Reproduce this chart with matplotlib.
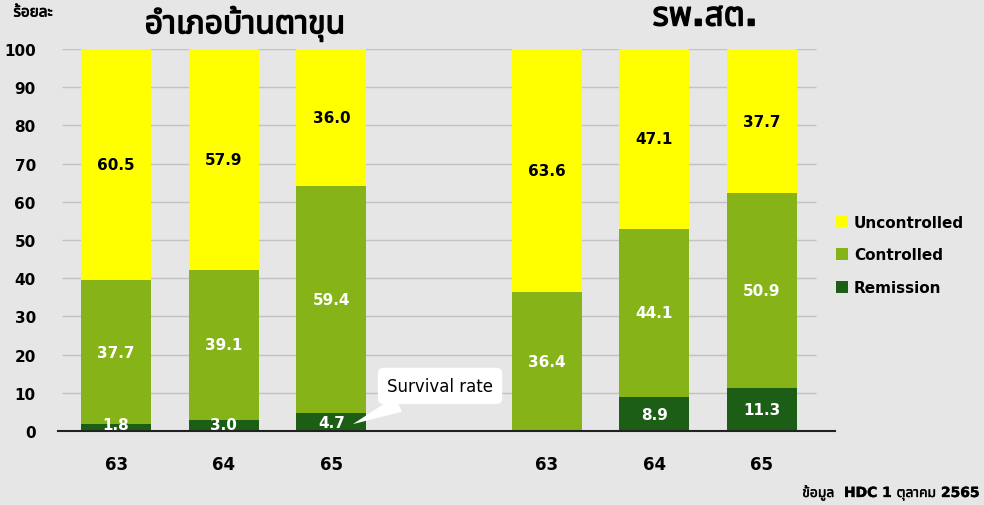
import matplotlib
matplotlib.use("Agg")
import matplotlib.pyplot as plt
import matplotlib.patheffects as pe
from matplotlib import font_manager
from matplotlib.ft2font import FT2Font

# ---- data ----
years = ["63", "64", "65", "63", "64", "65"]
group_titles = ["อำเภอบ้านตาขุน", "รพ.สต."]
remission = [1.8, 3.0, 4.7, 0.0, 8.9, 11.3]
controlled = [37.7, 39.1, 59.4, 36.4, 44.1, 50.9]
uncontrolled = [60.5, 57.9, 36.0, 63.6, 47.1, 37.7]
series_names = ["Uncontrolled", "Controlled", "Remission"]
yticks = [0, 10, 20, 30, 40, 50, 60, 70, 80, 90, 100]
ylabel_text = "ร้อยละ"
source_text = "ข้อมูล  HDC 1 ตุลาคม 2565"
callout_text = "Survival rate"

positions = [0, 1, 2, 4, 5, 6]

# ---- fonts ----
PREF = ["Noto Sans Thai", "Kanit", "Prompt", "Sarabun", "Loma", "Garuda", "Waree",
        "Umpush", "Tlwg Typo", "Laksaman", "Norasi", "Kinnari"]

def find_thai_font():
    found = []
    for f in font_manager.fontManager.ttflist:
        try:
            cm = FT2Font(f.fname).get_charmap()
        except Exception:
            continue
        if 0x0E2D in cm:
            found.append(f.name)
    if not found:
        return None
    for p in PREF:
        for n in found:
            if n == p:
                return n
    for p in PREF:
        for n in found:
            if n.startswith(p):
                return n
    return found[0]

thai = find_thai_font()
thai_fam = ["DejaVu Sans"] + ([thai] if thai else [])
plt.rcParams["font.family"] = ["DejaVu Sans"]

BG = "#e6e6e6"
C_UN = "#ffff00"
C_CO = "#86b418"
C_RE = "#1d5e16"

fig = plt.figure(figsize=(9.84, 5.06), dpi=100, facecolor=BG)
W, H = 984, 506
ax = fig.add_axes([58 / W, (H - 432) / H, (835 - 58) / W, (432 - 50) / H])
ax.set_facecolor(BG)
ax.set_xlim(-0.54, 6.68)
ax.set_ylim(0, 100)

# grid
ax.hlines(yticks[1:], -0.5, 6.5, color="#c2c2c2", lw=1.0, zorder=0)

bw = 0.65
b1 = ax.bar(positions, remission, bw, color=C_RE, zorder=2, label=series_names[2])
b2 = ax.bar(positions, controlled, bw, bottom=remission, color=C_CO, zorder=2, label=series_names[1])
bot3 = [r + c for r, c in zip(remission, controlled)]
b3 = ax.bar(positions, uncontrolled, bw, bottom=bot3, color=C_UN, zorder=2, label=series_names[0])

for x, r, c, u, b in zip(positions, remission, controlled, uncontrolled, bot3):
    if r > 0:
        ax.text(x, max(r / 2, 1.8), f"{r:.1f}", ha="center", va="center", color="white",
                fontsize=11, fontweight="bold", zorder=3)
    ax.text(x, r + c / 2, f"{c:.1f}", ha="center", va="center", color="white",
            fontsize=11, fontweight="bold", zorder=3)
    ax.text(x, b + u / 2, f"{u:.1f}", ha="center", va="center", color="black",
            fontsize=11, fontweight="bold", zorder=3)

for s in ["top", "right", "left"]:
    ax.spines[s].set_visible(False)
ax.spines["bottom"].set_color("#222222")
ax.spines["bottom"].set_linewidth(1.5)
ax.set_yticks(yticks)
ax.set_yticklabels([str(t) for t in yticks], fontsize=11, fontweight="bold")
ax.set_xticks(positions)
ax.set_xticklabels(years, fontsize=12, fontweight="bold")
ax.tick_params(axis="y", length=0, pad=16)
ax.tick_params(axis="x", length=0, pad=17)

# legend
handles = [b3, b2, b1]
leg = fig.legend(handles, series_names, loc="center left", bbox_to_anchor=(822 / W, 1 - 256 / H),
                 frameon=False, prop={"weight": "bold", "size": 11},
                 handlelength=0.8, handleheight=0.8, handletextpad=0.4, labelspacing=1.15)

# titles (thin stroke thickens the Thai glyphs to look bold)
fig.text(245 / W, 1 - 25 / H, group_titles[0], ha="center", va="center", fontsize=23,
         fontweight="bold", family=thai_fam,
         path_effects=[pe.withStroke(linewidth=1.0, foreground="black")])
fig.text(705 / W, 1 - 17 / H, group_titles[1], ha="center", va="center", fontsize=24,
         fontweight="bold", family=thai_fam,
         path_effects=[pe.withStroke(linewidth=1.0, foreground="black")])
fig.text(33 / W, 1 - 13 / H, ylabel_text, ha="center", va="center", fontsize=11,
         fontweight="bold", family=thai_fam,
         path_effects=[pe.withStroke(linewidth=0.5, foreground="black")])
fig.text(980 / W, 1 - 494 / H, source_text, ha="right", va="center", fontsize=10,
         fontweight="bold", family=thai_fam,
         path_effects=[pe.withStroke(linewidth=0.3, foreground="black")])

# callout
ax.annotate(callout_text, xy=(2.2, 1.8), xytext=(3.01, 11.8), ha="center", va="center",
            fontsize=12, zorder=4,
            bbox=dict(boxstyle="round,pad=0.55,rounding_size=0.35", fc="white", ec="none"),
            arrowprops=dict(arrowstyle="wedge,tail_width=1.0,shrink_factor=0.5", fc="white", ec="none",
                            shrinkA=0, shrinkB=0))

fig.savefig("out.png", dpi=100, facecolor=BG)
